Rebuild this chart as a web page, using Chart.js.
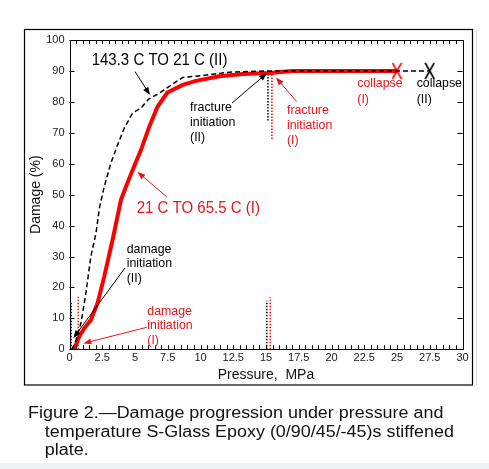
<!DOCTYPE html>
<html><head><meta charset="utf-8">
<script src="https://cdn.jsdelivr.net/npm/chart.js@4/dist/chart.umd.min.js"></script>
<style>
html,body{margin:0;padding:0;background:#fff;width:489px;height:469px;overflow:hidden;}
#wrap{position:relative;width:489px;height:469px;}
#c{position:absolute;left:0;top:0;}
#cap{position:absolute;left:28px;top:404px;font-family:"Liberation Sans",Arial,sans-serif;font-size:16px;line-height:18.5px;color:#111;transform:scaleX(1.12);transform-origin:0 0;white-space:nowrap;}
#cap .ind{padding-left:15px;}
#band{position:absolute;left:0;top:463px;width:489px;height:6px;background:#eef1f6;}
</style></head>
<body><div id="wrap">
<canvas id="c" width="489" height="469"></canvas>
<div id="cap"><div>Figure 2.—Damage progression under pressure and</div><div class="ind">temperature S-Glass Epoxy (0/90/45/-45)s stiffened</div><div class="ind">plate.</div></div>
<div id="band"></div>
</div>
<script>
// ---- data ----
const pressureII = [0.2, 0.5, 0.87, 1.25, 1.63, 2.02, 2.3, 2.65, 3.16, 3.67, 4.18, 4.82, 5.46, 6.04, 6.86, 7.62, 8.64, 10.17, 12.2, 15.0, 20, 25, 27.5];
const damageII   = [0, 3, 8.4, 18.1, 30, 37.5, 46, 52.6, 60.2, 66.1, 71.5, 76.4, 78.0, 80.9, 82.8, 85.0, 87.9, 88.5, 89.6, 90, 90, 90, 90];
const pressureI  = [0.36, 0.74, 1.12, 1.63, 2.14, 2.65, 3.29, 3.93, 4.31, 4.82, 5.46, 6.09, 6.73, 7.47, 8.64, 9.66, 11.44, 13.23, 15.27, 17, 20, 25];
const damageI    = [0, 4.1, 6.8, 9.5, 14.9, 23.5, 35.4, 48.3, 52.6, 58.0, 64.5, 72.0, 78.5, 83.0, 85.5, 86.8, 88.3, 89.0, 89.3, 90, 90, 90];
const collapsePressure = [25, 27.5];           // (I), (II)
const collapseDamage   = [90, 90];
// vertical dotted markers: [pressure, damageFrom, damageTo]
const initMarkersII = [[0.12, 0, 15], [15.06, 0, 15.7], [15.15, 74, 90]];
const initMarkersI  = [[0.67, 0, 17], [15.32, 0, 16.8], [15.45, 68, 90]];
const xMin = 0, xMax = 30, xMajor = 2.5, xMinor = 0.5;
const yMin = 0, yMax = 100, yStep = 10;
const xTitle = 'Pressure,  MPa';
const yTitle = 'Damage (%)';

const RED = '#ff0000', RED_TXT = '#e8141e', BLK = '#000000';
const FONT = '"Liberation Sans", Arial, sans-serif';

function zip(xs, ys){ return xs.map((x,i)=>({x:x, y:ys[i]})); }

function makeX(color){
  const c = document.createElement('canvas'); c.width = 11; c.height = 18;
  const g = c.getContext('2d'); g.strokeStyle = color; g.lineWidth = 1.6;
  g.beginPath(); g.moveTo(1,1); g.lineTo(10,17); g.moveTo(10,1); g.lineTo(1,17); g.stroke();
  return c;
}

const datasets = [];
datasets.push({data: zip(pressureII, damageII), borderColor: BLK, borderWidth: 1.5, borderDash: [5,3], pointRadius: 0, fill:false, tension:0});
datasets.push({data: zip(pressureI, damageI), borderColor: RED, borderWidth: 4, pointRadius: 0, fill:false, tension:0});
initMarkersII.forEach(m => datasets.push({data:[{x:m[0],y:m[1]},{x:m[0],y:m[2]}], borderColor: BLK, borderWidth:1.5, borderDash:[1.5,1.5], pointRadius:0}));
initMarkersI.forEach((m,i) => datasets.push({data:[{x:m[0],y:m[1]},{x:m[0],y:m[2]}], borderColor: i===0 ? '#b8301e' : RED, borderWidth:1.5, borderDash:[1.5,1.5], pointRadius:0}));
datasets.push({data:[{x:collapsePressure[0], y:collapseDamage[0]}], showLine:false, pointStyle: makeX(RED), pointRadius: 9});
datasets.push({data:[{x:collapsePressure[1], y:collapseDamage[1]}], showLine:false, pointStyle: makeX(BLK), pointRadius: 9});

// annotations in data coordinates
const notes = [
  {lines:['143.3 C TO 21 C (II)'], x:1.69, y:93.5, color:BLK, size:16.5, sx:0.91, lh:19},
  {lines:['fracture','initiation','(II)'], x:9.2, y:78.3, color:BLK, size:13, sx:0.95, lh:15},
  {lines:['fracture','initiation','(I)'], x:16.6, y:77.2, color:RED_TXT, size:13, sx:0.95, lh:15},
  {lines:['collapse','(I)'], x:21.97, y:85.8, color:RED_TXT, size:13, sx:0.95, lh:16},
  {lines:['collapse','(II)'], x:26.5, y:85.8, color:BLK, size:13, sx:0.95, lh:16},
  {lines:['21 C TO 65.5 C (I)'], x:5.13, y:45.6, color:RED_TXT, size:16.5, sx:0.91, lh:19},
  {lines:['damage','initiation','(II)'], x:4.37, y:32.4, color:BLK, size:13, sx:0.95, lh:14.8},
  {lines:['damage','initiation','(I)'], x:5.94, y:12.4, color:RED_TXT, size:13, sx:0.95, lh:14.6}
];
const arrows = [
  {from:[5.0,89.8], to:[6.15,82.2], color:BLK},
  {from:[12.4,79.6], to:[15.08,89.3], color:BLK},
  {from:[17.34,80.1], to:[15.76,87.9], color:RED_TXT},
  {from:[7.42,49.3], to:[5.18,57.4], color:RED_TXT},
  {from:[4.24,26.3], to:[0.29,3.6], color:BLK},
  {from:[5.89,7.1], to:[1.05,1.9], color:RED_TXT}
];

const decor = {
  id:'decor',
  afterDraw(chart){
    const ctx = chart.ctx, a = chart.chartArea, xs = chart.scales.x, ys = chart.scales.y;
    ctx.save();
    // outer frame
    ctx.strokeStyle = '#000'; ctx.lineWidth = 1.2;
    ctx.strokeRect(24.5, 29.5, 448, 355.5);
    ctx.strokeStyle = '#d8d8d8'; ctx.lineWidth = 1;
    ctx.beginPath(); ctx.moveTo(476.5, 31); ctx.lineTo(476.5, 386); ctx.stroke();
    // plot frame
    ctx.strokeStyle = '#000'; ctx.lineWidth = 1;
    ctx.strokeRect(Math.round(a.left)+0.5, Math.round(a.top)+0.5, Math.round(a.right-a.left), Math.round(a.bottom-a.top));
    // inward ticks
    ctx.beginPath();
    xs.ticks.forEach(t => {
      const px = Math.round(xs.getPixelForValue(t.value)) + 0.5;
      ctx.moveTo(px, a.bottom); ctx.lineTo(px, a.bottom - 4);
      ctx.moveTo(px, a.top); ctx.lineTo(px, a.top + 4);
    });
    ys.ticks.forEach(t => {
      const py = Math.round(ys.getPixelForValue(t.value)) + 0.5;
      ctx.moveTo(a.left, py); ctx.lineTo(a.left + 5, py);
      ctx.moveTo(a.right, py); ctx.lineTo(a.right - 5, py);
    });
    ctx.stroke();
    // arrows
    arrows.forEach(ar => {
      const x1 = xs.getPixelForValue(ar.from[0]), y1 = ys.getPixelForValue(ar.from[1]);
      const x2 = xs.getPixelForValue(ar.to[0]), y2 = ys.getPixelForValue(ar.to[1]);
      const ang = Math.atan2(y2-y1, x2-x1), L = 8, W = 3;
      ctx.strokeStyle = ar.color; ctx.fillStyle = ar.color; ctx.lineWidth = 1;
      ctx.beginPath(); ctx.moveTo(x1,y1); ctx.lineTo(x2 - Math.cos(ang)*L*0.8, y2 - Math.sin(ang)*L*0.8); ctx.stroke();
      ctx.beginPath();
      ctx.moveTo(x2, y2);
      ctx.lineTo(x2 - Math.cos(ang)*L - Math.sin(ang)*W, y2 - Math.sin(ang)*L + Math.cos(ang)*W);
      ctx.lineTo(x2 - Math.cos(ang)*L + Math.sin(ang)*W, y2 - Math.sin(ang)*L - Math.cos(ang)*W);
      ctx.closePath(); ctx.fill();
    });
    // notes
    notes.forEach(n => {
      ctx.fillStyle = n.color; ctx.font = n.size + 'px ' + FONT;
      ctx.textAlign = 'left'; ctx.textBaseline = 'middle';
      const x = xs.getPixelForValue(n.x), y0 = ys.getPixelForValue(n.y);
      n.lines.forEach((s,i) => {
        ctx.save(); ctx.translate(x, y0 + i*n.lh); ctx.scale(n.sx, 1);
        ctx.fillText(s, 0, 0); ctx.restore();
      });
    });
    ctx.restore();
  }
};

new Chart(document.getElementById('c'), {
  type:'line',
  data:{datasets: datasets},
  options:{
    responsive:false, animation:false, devicePixelRatio:1,
    layout:{padding:{left:24, top:40, right:26.5, bottom:84}},
    plugins:{legend:{display:false}, tooltip:{enabled:false}},
    scales:{
      x:{type:'linear', min:xMin, max:xMax,
        grid:{display:false, drawTicks:false, tickLength:0}, border:{display:false},
        ticks:{stepSize:xMinor, autoSkip:false, maxRotation:0, minRotation:0, padding:2, color:'#222', font:{family:FONT, size:11},
          callback:(v)=> Math.abs(v/xMajor - Math.round(v/xMajor)) < 1e-6 ? String(Math.round(v*10)/10) : ''},
        title:{display:true, text:xTitle, color:'#111', font:{family:FONT, size:14}, padding:{top:0, bottom:1.6}},
        afterFit(s){ s.height = 35.7; }
      },
      y:{type:'linear', min:yMin, max:yMax,
        grid:{display:false, drawTicks:false, tickLength:0}, border:{display:false},
        ticks:{stepSize:yStep, padding:5, color:'#222', font:{family:FONT, size:11}},
        title:{display:true, text:yTitle, color:'#111', font:{family:FONT, size:14}, padding:{top:4, bottom:0}},
        afterFit(s){ s.width = 45.5; }
      }
    }
  },
  plugins:[decor]
});
</script>
</body></html>
